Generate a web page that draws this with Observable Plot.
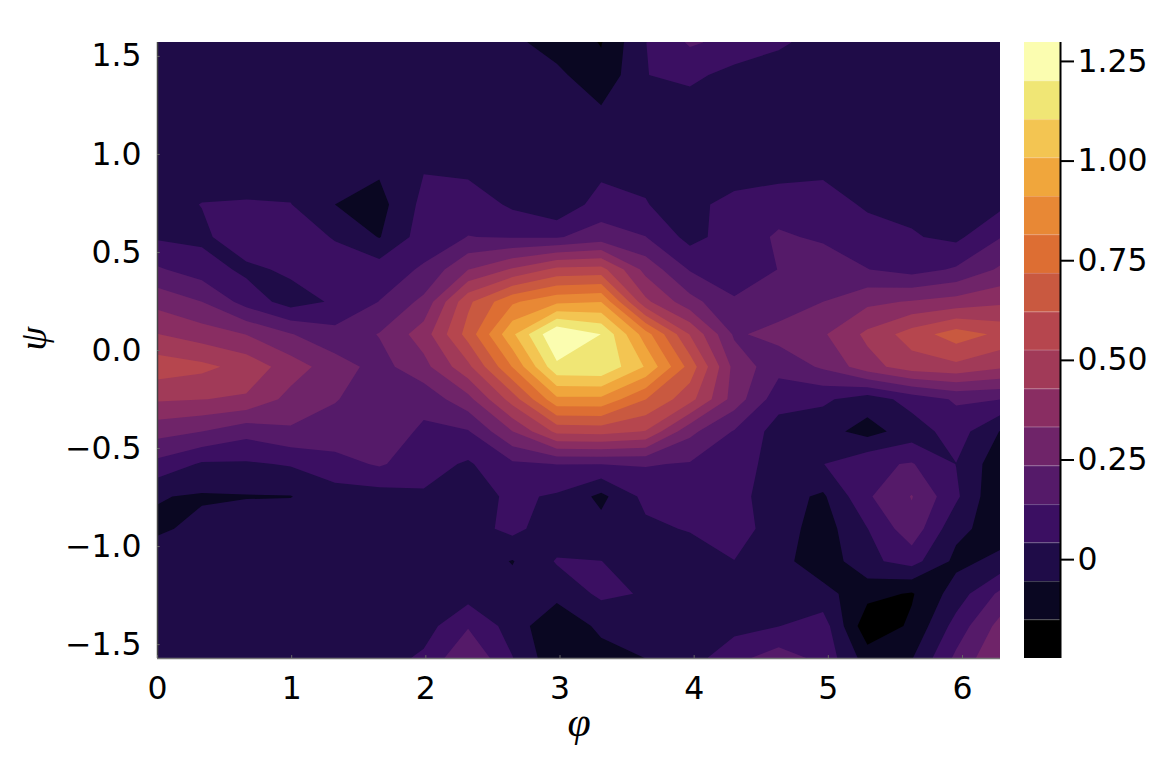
<!DOCTYPE html>
<html><head><meta charset="utf-8">
<style>html,body{margin:0;padding:0;background:#fff;width:1174px;height:770px;overflow:hidden}#wrap{position:relative;width:1174px;height:770px}#wrap svg{position:absolute;display:block}</style>
<script src="https://cdn.jsdelivr.net/npm/d3@7"></script>
<script src="https://cdn.jsdelivr.net/npm/@observablehq/plot@0.6"></script>
</head><body><div id="wrap"></div>
<script>
const levels = [-0.248,-0.151,-0.055,0.042,0.138,0.235,0.332,0.428,0.525,0.621,0.718,0.815,0.911,1.008,1.104,1.201,1.2975];
const colors = ["#000000","#0a0722","#1f0c48","#3b0f62","#551a69","#6f2469","#892d62","#a13a58","#b6464e","#c95940","#dd6e33","#e88835","#f0a63c","#f3c552","#f0e675","#fbfdb0"];
const cbTicks = [0,0.25,0.5,0.75,1,1.25];
const cbLabels = ["0","0.25","0.50","0.75","1.00","1.25"];
const xTicks = [0,1,2,3,4,5,6];
const yTicks = [-1.5,-1,-0.5,0,0.5,1,1.5];
const nCols = 20, nRows = 20;
// rows from psi = +pi/2 (top) to psi = -pi/2 (bottom), columns phi = 0..2pi
const grid = [
[0,0,0,0,-.02,0,0,0,-.03,-.103,-.155,.04,.15,.11,.055,.01,0,0,0,0],
[0,0,0,0,0,0,0,0,0,-.03,-.13,.04,.065,.01,0,0,0,0,0,0],
[0,0,0,0,0,0,0,0,0,0,-.05,.04,0,0,0,0,0,0,0,0],
[0,0,0,0,0,0,0,0,0,0,0,.01,0,0,0,0,0,0,0,0],
[0,0,0,0,-.01,-.045,.04,.025,.01,0,.02,.03,-.01,-.01,.01,.03,.01,0,0,0],
[0,.045,.05,.045,-.055,-.09,.07,.1,.025,-.04,.09,.045,.01,.08,.1,.08,.03,.02,0,.02],
[.03,.02,.11,.09,.035,-.06,.09,.14,.13,.13,.18,.14,.01,.09,.15,.125,.08,.05,.02,.135],
[.15,.09,.02,.06,.09,.09,.15,.33,.44,.55,.56,.3,.13,.08,.14,.19,.14,.1,.15,.25],
[.3,.235,.1,0,.055,.14,.26,.6,.8,.89,.91,.45,.27,.15,.18,.235,.31,.34,.37,.41],
[.43,.38,.33,.24,.17,.24,.38,.66,.99,1.3,1.2,.86,.52,.22,.27,.32,.45,.57,.67,.6],
[.58,.55,.49,.38,.28,.2,.3,.5,.82,1.18,1.19,1,.68,.3,.17,.25,.39,.48,.5,.445],
[.44,.43,.415,.3,.24,.19,.17,.3,.57,.89,.89,.72,.56,.29,.08,.06,-.01,.08,.15,.14],
[.27,.235,.17,.22,.2,.2,.12,.13,.33,.55,.56,.52,.26,.13,0,-.02,-.09,-.01,.09,-.06],
[.11,.03,.03,.05,.1,.15,.08,.03,.12,.14,.14,.145,.13,.09,0,.04,.12,.145,.04,-.12],
[-.05,-.065,-.06,-.058,0,0,.03,0,.06,.03,-.08,.07,.13,.08,-.02,-.07,.125,.24,.06,-.15],
[-.07,-.03,0,0,0,0,0,0,.07,-.02,-.02,.02,.05,.09,-.01,-.1,.04,.2,-.03,-.1],
[0,0,0,0,0,0,0,0,-.06,.05,.043,0,-.02,.04,-.02,-.12,.02,.08,-.08,-.03],
[0,0,0,0,0,0,0,0,-.02,-.02,.06,.035,0,0,0,-.02,-.12,-.16,-.01,.16],
[0,0,0,0,0,0,0,.13,0,-.14,-.03,0,0,.01,.04,.09,-.22,-.135,.08,.27],
[0,0,0,0,0,0,.06,.23,.046,-.13,-.1,-.055,0,.11,.19,.11,-.1,-.06,.16,.33]
];
const values = grid.flat();
const PI = Math.PI, dx = 2*PI/(nCols-1), dy = PI/(nRows-1);
const font = "'DejaVu Sans'";
const main = Plot.plot({
  width:1174,height:770,marginLeft:157,marginRight:174,marginTop:42,marginBottom:112,
  style:{fontFamily:font,background:"transparent",overflow:"visible"},
  x:{domain:[0,2*PI]},y:{domain:[-PI/2,PI/2]},
  color:{type:"threshold",domain:levels.slice(1),range:colors},
  marks:[
    Plot.contour(values,{width:nCols,height:nRows,x1:-dx/2,x2:2*PI+dx/2,y1:PI/2+dy/2,y2:-PI/2-dy/2,value:Plot.identity,thresholds:levels,fill:"value",stroke:"none",clip:true}),
    Plot.ruleX([0],{stroke:"#444",strokeWidth:1.5}),
    Plot.ruleY([-PI/2],{stroke:"#777",strokeWidth:1.5}),
    Plot.axisX({ticks:xTicks,tickFormat:d=>String(d),fontSize:31.5,tickSize:0,tickPadding:18,label:null,fill:"#000"}),
    Plot.axisY({ticks:yTicks,tickFormat:d3.format(".1f"),fontSize:31.5,tickSize:0,tickPadding:16,label:null,fill:"#000"}),
    Plot.ruleX(xTicks,{x:d=>d,y1:-PI/2,y2:-PI/2+0.015,stroke:"#666",strokeWidth:1}),
    Plot.ruleY(yTicks,{y:d=>d,x1:0,x2:0.02,stroke:"#666",strokeWidth:1}),
    Plot.text(["φ"],{frameAnchor:"bottom",dy:77,x:PI,fontFamily:"'Liberation Serif'",fontStyle:"italic",fontSize:42,fill:"#000"}),
    Plot.text(["ψ"],{frameAnchor:"left",dx:-124,y:0,rotate:-90,fontFamily:"'Liberation Serif'",fontStyle:"italic",fontSize:38,fill:"#000"})
  ]
});
document.getElementById("wrap").append(main);
main.style.left="0";main.style.top="0";
const bands = colors.map((c,i)=>({lo:levels[i],hi:levels[i+1],c}));
const bar = Plot.plot({
  width:150,height:770,marginLeft:0,marginRight:114,marginTop:42,marginBottom:112,
  style:{fontFamily:font,background:"transparent"},
  x:{domain:[0,1],axis:null},y:{domain:[levels[0],levels[16]]},
  color:{type:"identity"},
  marks:[
    Plot.rect(bands,{x1:()=>0,x2:()=>1,y1:"lo",y2:"hi",fill:"c"}),
    Plot.ruleY(levels.slice(1,-1),{stroke:"#fff",strokeOpacity:0.18,strokeWidth:1}),
    Plot.ruleX([1],{stroke:"#000",strokeWidth:2}),
    Plot.axisY({anchor:"right",ticks:cbTicks,tickFormat:(d,i)=>cbLabels[cbTicks.indexOf(d)],fontSize:31.5,tickSize:13,tickPadding:4,label:null,stroke:"#000",fill:"#000",strokeWidth:2})
  ]
});
document.getElementById("wrap").append(bar);
bar.style.left="1024px";bar.style.top="0";bar.style.overflow="visible";
</script></body></html>
